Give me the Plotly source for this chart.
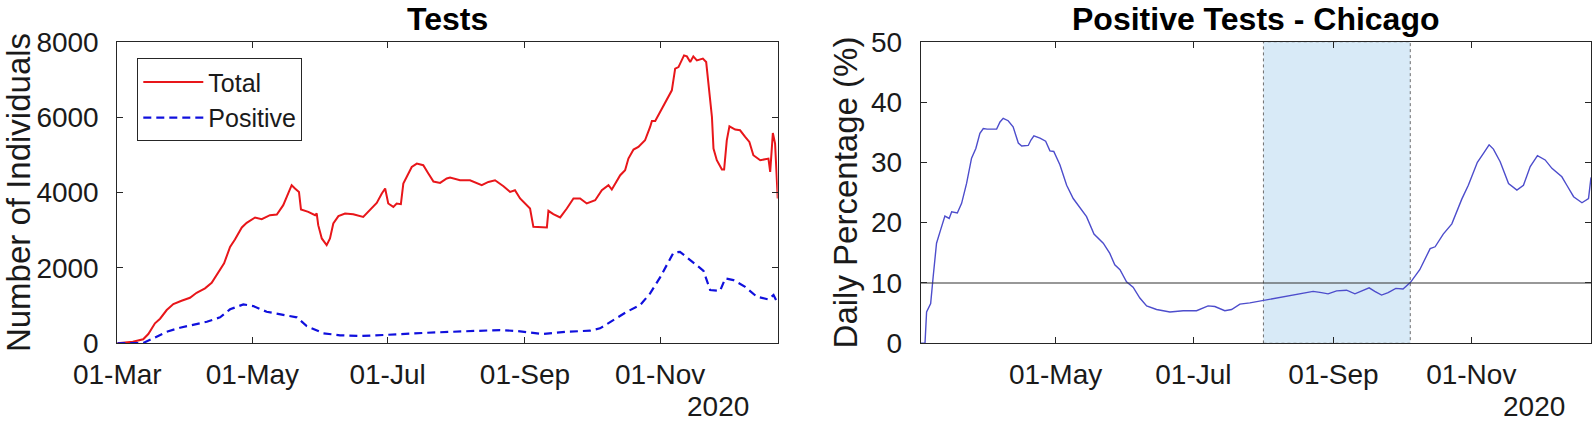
import pandas as pd
import plotly.graph_objects as go

BASE = pd.Timestamp("2020-03-01")

# ---- data (day offset from 01-Mar-2020, value) ----
total_day = [0, 7, 11.7, 14, 17, 19.3, 22.3, 25.3, 29, 32.8, 35.8, 39.6, 42.6, 44.9, 48.2, 50.9, 53.1,
             56.2, 58.4, 62.2, 65.2, 68.9, 72, 74.9, 77.2, 78.7, 80.2, 82, 82.9, 86.2, 89.3, 90, 90.7,
             92.3, 94.5, 96, 97.5, 99.8, 102.8, 106.5, 111, 114, 117.1, 119.4, 120.9, 122.3, 124.6,
             126.1, 128, 129.1, 131.4, 132.9, 135.2, 138.1, 140.4, 142.7, 145.7, 148.7, 150.2, 154.7,
             159.2, 164.5, 167.5, 170.5, 174.3, 177.3, 179.5, 181.8, 186.3, 187.8, 193.9, 194.6, 196.8,
             199.9, 202.9, 205.9, 208.9, 211.9, 215.7, 218.7, 221.7, 223.2, 227, 229.2, 230.7, 233,
             235.2, 238.2, 240.5, 241.3, 242.8, 245, 248, 250.3, 251.8, 253.3, 255.8, 257.1, 258.6,
             260, 261.6, 264.3, 265.8, 266.8, 268.4, 269.1, 270.6, 272.9, 273.9, 275.1, 276.3, 278.9,
             281.1, 283.4, 285.3, 287.1, 290.2, 293.9, 294.7, 295.9, 296.9, 298.1]
total_val = [0, 42, 106, 246, 530, 652, 882, 1041, 1128, 1208, 1340, 1457, 1605, 1809, 2119, 2559, 2755,
             3073, 3195, 3338, 3293, 3399, 3417, 3664, 3974, 4194, 4106, 4016, 3550, 3486, 3399, 3444, 3134,
             2781, 2604, 2781, 3179, 3372, 3444, 3425, 3354, 3531, 3725, 3974, 4106, 3709, 3619,
             3709, 3690, 4238, 4503, 4678, 4768, 4723, 4503, 4290, 4254, 4371, 4397, 4326,
             4326, 4193, 4281, 4326, 4167, 4016, 4061, 3841, 3576, 3089, 3073, 3513, 3425,
             3338, 3576, 3841, 3841, 3709, 3796, 4061, 4193, 4079, 4458, 4591, 4900, 5139,
             5208, 5385, 5738, 5897, 5897, 6135, 6490, 6710, 7285, 7327, 7637, 7611, 7460,
             7611, 7505, 7550, 7460, 6887, 6003, 5166, 4856, 4609, 4609, 5385, 5756, 5669,
             5650, 5473, 5340, 4988, 4856, 4900, 4546, 5579, 5298, 3841]

pos_day = [0, 11.7, 16.3, 22.3, 28.3, 34.3, 40.4, 46.4, 50.9, 56.9, 61.4, 67.4, 73.5, 81, 85.5, 93,
           100.5, 109.6, 120.1, 132.1, 140, 151.7, 160, 172.8, 180.3, 192.3, 202.9, 213.4, 217.9,
           223.9, 230, 236, 240.5, 245, 251, 254, 258.6, 264.6, 267.6, 272.1, 274.4, 278.1, 283.4,
           288.7, 293.9, 296.2, 298.1]
pos_val = [0, 10, 132, 307, 413, 485, 572, 689, 901, 1033, 988, 837, 776, 689, 458, 265,
           212, 193, 220, 265, 280, 307, 320, 352, 326, 246, 307, 334, 397,
           617, 837, 1015, 1324, 1748, 2400, 2427, 2207, 1923, 1412, 1393, 1722, 1677, 1499,
           1234, 1165, 1279, 1060]

pct_day = [1.3, 3.2, 3.9, 5.7, 6.8, 8.3, 10.1, 12, 13.9, 15, 17.5, 19.4, 21.6, 23.8, 25.7, 27.5, 29,
           30.7, 34.9, 36.4, 37.8, 40, 42.2, 44.5, 46, 48.9, 50.1, 51.4, 54.1, 56.6, 58.5, 60.2, 62.9,
           65.9, 68.8, 71.8, 74.7, 78, 82.1, 85, 87.2, 89.5, 92.4, 95.3, 98.3, 101.3, 105.7, 111.6,
           117.5, 123.4, 128.5, 131.5, 135.9, 138.9, 142.6, 147, 152.9, 155.8, 161.7, 169.1, 175,
           178.7, 181.6, 185.4, 189.8, 193.5, 196.4, 199.8, 202.3, 205.3, 208.2, 211.6, 214.8, 218.1,
           222.2, 226.8, 229, 232.6, 236.4, 240.8, 243.7, 247.7, 250.4, 252.9, 254.8, 257.8, 261.5,
           265.2, 268.1, 271.1, 274.3, 277.7, 280.7, 285.1, 287.3, 290.3, 294, 296.9, 298.0]
pct_val = [0, 0, 5.2, 6.6, 11.0, 16.6, 18.8, 21.1, 20.7, 21.8, 21.6, 23.2, 26.5, 30.7, 32.3, 34.8, 35.6,
           35.5, 35.5, 36.7, 37.3, 36.9, 35.9, 33.2, 32.7, 32.8, 33.7, 34.4, 34.0, 33.5, 31.9, 31.8, 29.6,
           26.2, 24.0, 22.4, 21.0, 18.1, 16.6, 14.9, 13.0, 12.2, 10.2, 9.3, 7.5, 6.2, 5.6, 5.2,
           5.4, 5.4, 6.2, 6.1, 5.4, 5.6, 6.5, 6.7, 7.1, 7.3, 7.7, 8.3, 8.6,
           8.4, 8.2, 8.7, 8.8, 8.2, 8.7, 9.2, 8.6, 8.0, 8.4, 9.1, 9.0, 10.1,
           12.2, 15.7, 16.0, 18.1, 19.8, 23.9, 26.2, 30.0, 31.5, 32.9, 32.2, 30.1, 26.5,
           25.4, 26.2, 29.3, 31.1, 30.4, 29.0, 27.6, 26.2, 24.3, 23.3, 24.0, 27.5]

tick_dates = ["2020-03-01", "2020-05-01", "2020-07-01", "2020-09-01", "2020-11-01"]
tick_text = ["01-Mar", "01-May", "01-Jul", "01-Sep", "01-Nov"]
left_yticks = [0, 2000, 4000, 6000, 8000]
right_yticks = [0, 10, 20, 30, 40, 50]
threshold = 10
shade_start, shade_end = "2020-08-01", "2020-10-05"
left_xrange = ["2020-03-01", "2020-12-24 02:00"]
right_xrange = ["2020-03-02 07:00", "2020-12-24 00:00"]


def to_dates(days):
    return [BASE + pd.Timedelta(days=d) for d in days]


W, H = 1594, 422
FONT = "Liberation Sans, Arial, sans-serif"
AX = "#262626"

fig = go.Figure()
fig.add_trace(go.Scatter(x=to_dates(total_day), y=total_val, mode="lines", name="Total",
                         line=dict(color="#e8161a", width=2), xaxis="x", yaxis="y"))
fig.add_trace(go.Scatter(x=to_dates(pos_day), y=pos_val, mode="lines", name="Positive",
                         line=dict(color="#1010dd", width=2.2, dash="8px,5px"), xaxis="x", yaxis="y"))
fig.add_trace(go.Scatter(x=to_dates(pct_day), y=pct_val, mode="lines", showlegend=False,
                         line=dict(color="#4d4dcc", width=1.4), xaxis="x2", yaxis="y2"))

axis_common = dict(showline=True, linecolor=AX, linewidth=1, mirror="ticks", ticks="inside",
                   ticklen=6, tickcolor=AX, tickwidth=1, showgrid=False, zeroline=False,
                   automargin=False,
                   tickfont=dict(family=FONT, size=28, color="#1a1a1a"))

fig.update_layout(
    template="none",
    width=W, height=H, margin=dict(l=0, r=0, t=0, b=0, pad=0),
    paper_bgcolor="white", plot_bgcolor="white",
    font=dict(family=FONT, color="#1a1a1a"),
    xaxis=dict(domain=[117.3 / W, 777.7 / W], anchor="y", type="date", range=left_xrange,
               tickvals=tick_dates, ticktext=tick_text, ticklabelstandoff=6, **axis_common),
    yaxis=dict(domain=[1 - 343.3 / H, 1 - 41.7 / H], anchor="x", range=[0, 8000],
               tickvals=left_yticks, ticklabelstandoff=12,
               title=dict(text="Number of Individuals", font=dict(family=FONT, size=33), standoff=12),
               **axis_common),
    xaxis2=dict(domain=[920.7 / W, 1591 / W], anchor="y2", type="date", range=right_xrange,
                tickvals=tick_dates, ticktext=tick_text, ticklabelstandoff=6, **axis_common),
    yaxis2=dict(domain=[1 - 343.3 / H, 1 - 41.7 / H], anchor="x2", range=[0, 50],
                tickvals=right_yticks, ticklabelstandoff=12,
                title=dict(text="Daily Percentage (%)", font=dict(family=FONT, size=33), standoff=3),
                **axis_common),
    legend=dict(x=137.3 / W, y=1 - 58.3 / H, xanchor="left", yanchor="top",
                bgcolor="white", bordercolor=AX, borderwidth=1,
                font=dict(family=FONT, size=25, color="#1a1a1a"), itemwidth=60,
                tracegroupgap=0),
    showlegend=True,
)

fig.add_shape(type="rect", xref="x2", yref="y2", x0=shade_start, x1=shade_end, y0=0, y1=50,
              fillcolor="#d8eaf7", line=dict(color="#6e6e6e", width=1, dash="dot"), layer="below")
fig.add_shape(type="line", xref="x2 domain", yref="y2", x0=0, x1=1, y0=threshold, y1=threshold,
              line=dict(color="#333333", width=1.2), layer="above")

fig.add_annotation(text="<b>Tests</b>", xref="x domain", yref="paper", x=0.5, y=1 - 19 / H,
                   xanchor="center", yanchor="middle", showarrow=False,
                   font=dict(family=FONT, size=32, color="black"))
fig.add_annotation(text="<b>Positive Tests - Chicago</b>", xref="x2 domain", yref="paper", x=0.5,
                   y=1 - 19 / H, xanchor="center", yanchor="middle", showarrow=False,
                   font=dict(family=FONT, size=32, color="black"))
fig.add_annotation(text="2020", xref="paper", yref="paper", x=717.5 / W, y=1 - 406 / H,
                   xanchor="center", yanchor="middle", showarrow=False,
                   font=dict(family=FONT, size=28, color="#1a1a1a"))
fig.add_annotation(text="2020", xref="paper", yref="paper", x=1534 / W, y=1 - 406 / H,
                   xanchor="center", yanchor="middle", showarrow=False,
                   font=dict(family=FONT, size=28, color="#1a1a1a"))

fig.write_html("out.html", config={"displayModeBar": False},
               post_script="document.body.style.margin='0px';document.body.style.overflow='hidden';")
